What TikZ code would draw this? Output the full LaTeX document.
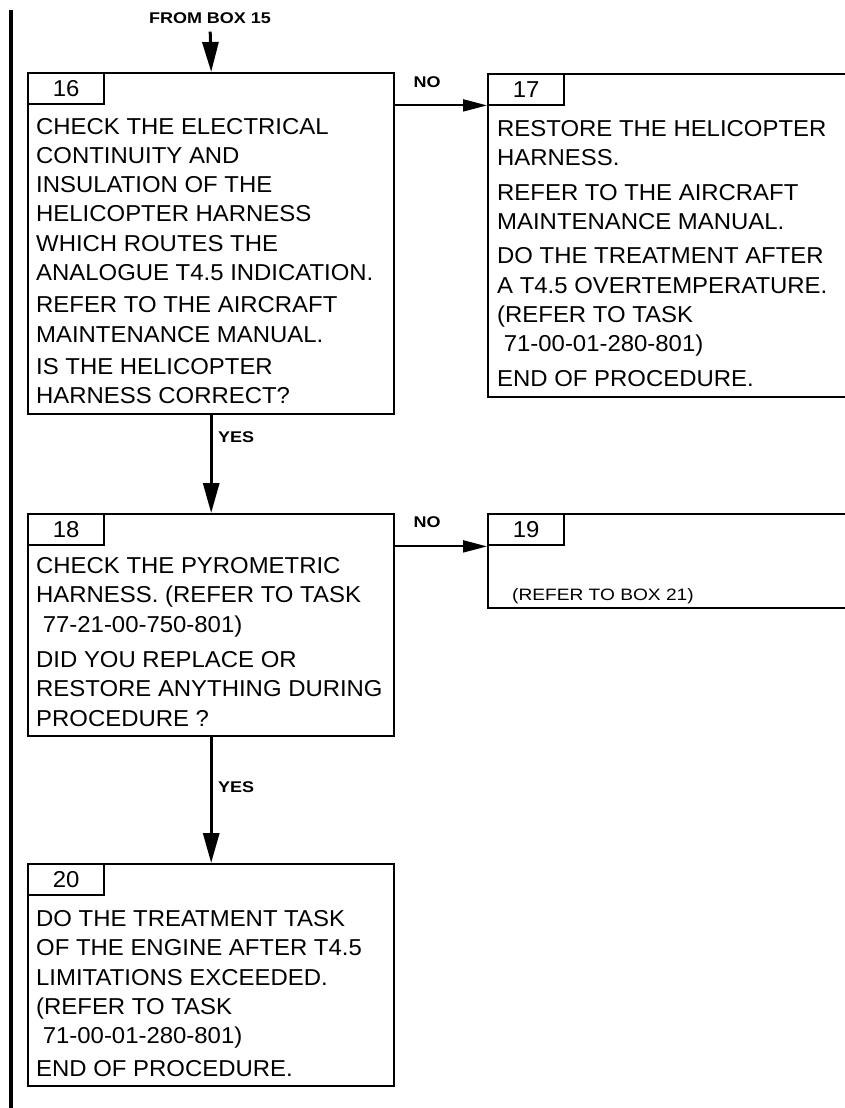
\documentclass[tikz,border=0pt]{standalone}
\usepackage{fontspec}
\setmainfont{Liberation Sans}[FakeStretch=1.04]
\newfontfamily\wideface{Liberation Sans}[FakeStretch=1.16]
\usetikzlibrary{arrows.meta, positioning}

\tikzset{
  box/.style={draw, line width=2.4pt, anchor=north west, inner sep=0pt},
  tabbox/.style={draw, line width=2.4pt, anchor=north west, inner sep=0pt,
    minimum width=76pt, minimum height=31pt, font=\fontsize{23}{23}\selectfont},
  boxtext/.style={anchor=base west, align=left, inner sep=0pt,
    font=\fontsize{23}{29.3}\selectfont},
  yesno/.style={inner sep=0pt, font=\wideface\bfseries\fontsize{15.5}{15.5}\selectfont},
  flow/.style={line width=3pt, -{Triangle[length=30pt, width=16pt]}},
  side/.style={line width=2pt, -{Triangle[length=24pt, width=12pt]}},
}

\begin{document}
\begin{tikzpicture}[x=1pt, y=-1pt]
    \useasboundingbox (0,0) rectangle (844,1108);

    % Change bar
    \draw[line width=4pt] (10.5,10) -- (10.5,1108);

    % Entry
    \node[yesno] (from15) at (210,18) {FROM BOX 15};

    % Box 16
    \node[box, minimum width=366pt, minimum height=341pt] (b16) at (27,72) {};
    \node[tabbox] (t16) at (b16.north west) {16};
    \node[boxtext] (x16) at (36,403.7) {CHECK THE ELECTRICAL\\
        CONTINUITY AND\\
        INSULATION OF THE\\
        HELICOPTER HARNESS\\
        WHICH ROUTES THE\\
        ANALOGUE T4.5 INDICATION.\\[3pt]
        REFER TO THE AIRCRAFT\\
        MAINTENANCE MANUAL.\\[3pt]
        IS THE HELICOPTER\\
        HARNESS CORRECT?};

    % Box 17
    \node[box, minimum width=380pt, minimum height=323pt] (b17) at (487,73) {};
    \node[tabbox] (t17) at (b17.north west) {17};
    \node[boxtext] (x17) at (497,386) {RESTORE THE HELICOPTER\\
        HARNESS.\\[5pt]
        REFER TO THE AIRCRAFT\\
        MAINTENANCE MANUAL.\\[5pt]
        DO THE TREATMENT AFTER\\
        A T4.5 OVERTEMPERATURE.\\
        (REFER TO TASK\\
        \ 71-00-01-280-801)\\[5pt]
        END OF PROCEDURE.};

    % Box 18
    \node[box, minimum width=366pt, minimum height=222pt] (b18) at (27,513) {};
    \node[tabbox] (t18) at (b18.north west) {18};
    \node[boxtext] (x18) at (36,726) {CHECK THE PYROMETRIC\\
        HARNESS. (REFER TO TASK\\
        \ 77-21-00-750-801)\\[6pt]
        DID YOU REPLACE OR\\
        RESTORE ANYTHING DURING\\
        PROCEDURE ?};

    % Box 19
    \node[box, minimum width=380pt, minimum height=94pt] (b19) at (487,513) {};
    \node[tabbox] (t19) at (b19.north west) {19};
    \node[anchor=base west, inner sep=0pt, font=\wideface\fontsize{16.5}{16.5}\selectfont]
        (x19) at (512,600) {(REFER TO BOX 21)};

    % Box 20
    \node[box, minimum width=366pt, minimum height=222pt] (b20) at (27,863) {};
    \node[tabbox] (t20) at (b20.north west) {20};
    \node[boxtext] (x20) at (36,1076) {DO THE TREATMENT TASK\\
        OF THE ENGINE AFTER T4.5\\
        LIMITATIONS EXCEEDED.\\
        (REFER TO TASK\\
        \ 71-00-01-280-801)\\[3pt]
        END OF PROCEDURE.};

    % Connectors
    \draw[flow, shorten <=8pt] (from15.south) -- (b16.north);
    \draw[flow] (b16.south) -- (b18.north);
    \draw[flow] (b18.south) -- (b20.north);
    \draw[side] (t16.south -| b16.east) -- (t16.south -| b17.west);
    \draw[side] (t18.south -| b18.east) -- (t18.south -| b19.west);

    % Answers
    \node[yesno] (no16) at (427,82) {NO};
    \node[yesno, anchor=west] (yes16) at (218,437) {YES};
    \node[yesno] (no18) at (427,522) {NO};
    \node[yesno, anchor=west] (yes18) at (218,787) {YES};
\end{tikzpicture}
\end{document}
